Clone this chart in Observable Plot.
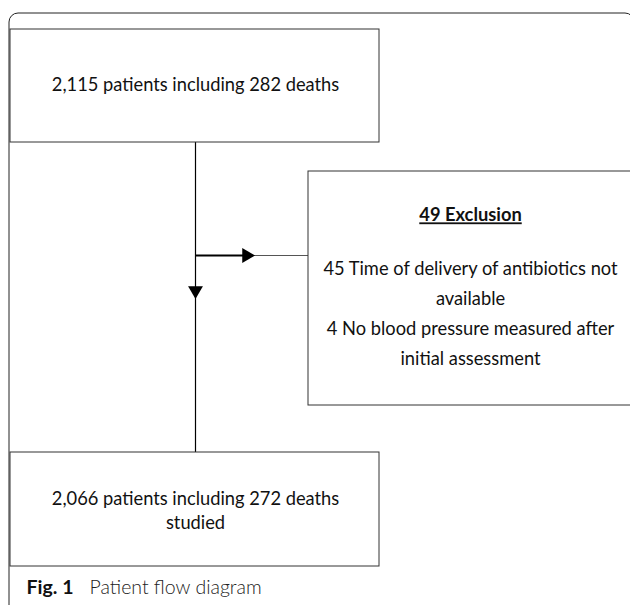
<!DOCTYPE html>
<html>
<head>
<meta charset="utf-8">
<script src="https://cdn.jsdelivr.net/npm/d3@7"></script>
<script src="https://cdn.jsdelivr.net/npm/@observablehq/plot@0.6"></script>
<style>
  html, body { margin: 0; padding: 0; background: #fff; }
  #chart svg { display: block; }
  .uline text { text-decoration: underline; }
</style>
</head>
<body>
<div id="chart"></div>
<script>
// Node texts
const startLines = ["2,115 patients including 282 deaths"];
const exclusionTitle = ["49 Exclusion"];
const exclusionLines = [
  "45 Time of delivery of antibiotics not",
  "available",
  "4 No blood pressure measured after",
  "initial assessment"
];
const studiedLines = ["2,066 patients including 272 deaths", "studied"];
const captionLabel = ["Fig. 1"];
const captionText = ["Patient flow diagram"];

// Layout (diagram coordinates, in pixels)
const boxes = [
  {id: "start", x1: 10, x2: 379, y1: 29, y2: 142},
  {id: "exclusion", x1: 308, x2: 640, y1: 171, y2: 405},
  {id: "studied", x1: 10, x2: 379, y1: 452, y2: 566}
];
const frame = [{x1: 9, x2: 634, y1: 13, y2: 640}];
const titleRows = [{text: exclusionTitle[0], x: 470, y: 215}];
const textRows = [
  {text: startLines[0], x: 195, y: 85},
  {text: exclusionLines[0], x: 470, y: 269},
  {text: exclusionLines[1], x: 470, y: 299},
  {text: exclusionLines[2], x: 470, y: 329},
  {text: exclusionLines[3], x: 470, y: 359},
  {text: studiedLines[0], x: 195, y: 499},
  {text: studiedLines[1], x: 195, y: 523}
];
const vline = [{x: 195, y1: 142, y2: 452}];
const hThick = [{x1: 195, x2: 246, y: 255}];
const hThin = [{x1: 246, x2: 308, y: 255}];
const arrowHeads = [
  {x: 246, y: 255, rotate: 90},
  {x: 195, y: 290, rotate: 180}
];

const font = "Lato, 'Open Sans', sans-serif";

const plot = Plot.plot({
  width: 630,
  height: 605,
  margin: 0,
  x: {domain: [0, 630], range: [0, 630], axis: null},
  y: {domain: [0, 605], range: [0, 605], axis: null},
  style: {fontFamily: font, background: "#fff"},
  marks: [
    Plot.rect(frame, {x1: "x1", x2: "x2", y1: "y1", y2: "y2", fill: "none", stroke: "#222", strokeWidth: 1, rx: 9}),
    Plot.ruleX(vline, {x: "x", y1: "y1", y2: "y2", stroke: "#000", strokeWidth: 1.2}),
    Plot.ruleY(hThick, {x1: "x1", x2: "x2", y: "y", stroke: "#000", strokeWidth: 2}),
    Plot.ruleY(hThin, {x1: "x1", x2: "x2", y: "y", stroke: "#555", strokeWidth: 1}),
    Plot.dot(arrowHeads, {x: "x", y: "y", rotate: "rotate", symbol: "triangle", r: 5.5, fill: "#000", stroke: "none"}),
    Plot.rect(boxes, {x1: "x1", x2: "x2", y1: "y1", y2: "y2", fill: "#fff", stroke: "#333", strokeWidth: 1}),
    Plot.text(titleRows, {x: "x", y: "y", text: "text", fontWeight: "bold", fontSize: 18.3, fill: "#111", lineAnchor: "middle", textAnchor: "middle", className: "uline"}),
    Plot.text(textRows, {x: "x", y: "y", text: "text", fontSize: 18.3, fill: "#111", lineAnchor: "middle", textAnchor: "middle"}),
    Plot.text(captionLabel, {x: 26, y: 587, text: d => d, fontWeight: "bold", fontSize: 19.5, textAnchor: "start", lineAnchor: "middle", fill: "#111"}),
    Plot.text(captionText, {x: 89, y: 587, text: d => d, fontWeight: 300, fontSize: 19.5, textAnchor: "start", lineAnchor: "middle", fill: "#222"})
  ]
});
document.getElementById("chart").appendChild(plot);
</script>
</body>
</html>
